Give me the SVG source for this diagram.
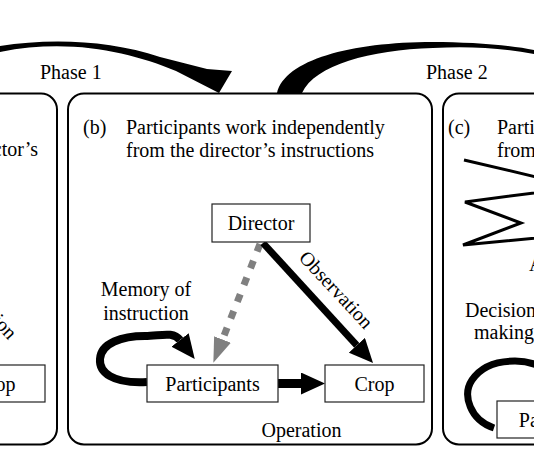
<svg xmlns="http://www.w3.org/2000/svg" width="534" height="462" viewBox="0 0 534 462">
<style>
text { font-family: "Liberation Serif", "Times New Roman", serif; font-size: 20px; fill: #000; }
.mid { text-anchor: middle; }
.panel { fill: #fff; stroke: #000; stroke-width: 2; }
.box { fill: #fff; stroke: #222; stroke-width: 1.2; }
.blk { fill: none; stroke: #000; }
.gray { fill: none; stroke: #808080; stroke-width: 7; stroke-dasharray: 8 10; }
.flow { fill: #000; }
</style>
<defs>
<marker id="headB" markerUnits="userSpaceOnUse" viewBox="0 0 24 22" markerWidth="24" markerHeight="22" refX="0" refY="11" orient="auto">
<path d="M0,0 L24,11 L0,22 Z" fill="#000"/>
</marker>
<marker id="headG" markerUnits="userSpaceOnUse" viewBox="0 0 25 18" markerWidth="25" markerHeight="18" refX="0" refY="9" orient="auto">
<path d="M0,0 L25,9 L0,18 Z" fill="#808080"/>
</marker>
</defs>

<g id="phase-arrows">
<path class="flow" d="M0,46 C50,38 110,40 160,57 L207,69 L232,71 L219,93 L176,71 C130,52 70,38 0,52 Z"/>
<path class="flow" d="M277,93 C285,60 350,42 433,42 C470,42 510,45 534,50 L534,54 C500,48 470,46 433,48 C370,50 315,65 302,93 Z"/>
<text x="40" y="79">Phase 1</text>
<text x="426" y="79">Phase 2</text>
</g>

<g id="panel-a">
<rect class="panel" x="-310" y="93.5" width="367" height="351" rx="16"/>
<text x="38" y="156" text-anchor="end">director’s</text>
<text x="-58" y="269" transform="rotate(47 -58 269)">Observation</text>
<g id="crop-a">
<rect class="box" x="-54" y="365" width="99" height="37"/>
<text class="mid" x="-4.5" y="390.5">Crop</text>
</g>
</g>

<g id="panel-b">
<rect class="panel" x="68" y="93.5" width="364" height="351" rx="16"/>
<text x="83" y="134">(b)</text>
<text x="126" y="134">Participants work independently</text>
<text x="126" y="157">from the director’s instructions</text>
<text class="mid" x="146" y="296">Memory of</text>
<text class="mid" x="146" y="320">instruction</text>
<text class="mid" x="301.5" y="437">Operation</text>
</g>

<g id="panel-c">
<rect class="panel" x="443" y="93.5" width="300" height="351" rx="16"/>
<text x="448" y="134">(c)</text>
<text x="497" y="134">Participants</text>
<text x="497" y="157">from</text>
<path d="M464,160 L579,187 L465,202 L521,223 L463,245 L590,233" fill="none" stroke="#000" stroke-width="3" stroke-linejoin="miter"/>
<text x="529" y="271">A</text>
<text x="465" y="317">Decision</text>
<text x="474" y="339">making</text>
</g>

<g id="connectors">
<path class="gray" d="M260,244 L222.5,339.5" marker-end="url(#headG)"/>
<path class="blk" stroke-width="7" d="M263,243 L356.8,345.3" marker-end="url(#headB)"/>
<path class="blk" stroke-width="9" d="M278,383.5 L301,383.5" marker-end="url(#headB)"/>
<path class="blk" stroke-width="8" d="M147,382 C112,384 99,372 100,359 C101,343 122,336 145,336 C160,336 173,331 180,340" marker-end="url(#headB)"/>
<path class="blk" stroke-width="7" d="M494,428 C470,420 462,395 472,380 C482,365 500,361 515,361 C528,361 540,365 550,372"/>
<text x="298" y="258.5" transform="rotate(47 298 258.5)">Observation</text>
</g>

<g id="director">
<rect class="box" x="212" y="204" width="98" height="38"/>
<text class="mid" x="261" y="230">Director</text>
</g>
<g id="participants">
<rect class="box" x="147" y="365" width="131" height="37"/>
<text class="mid" x="212.5" y="390.5">Participants</text>
</g>
<g id="crop">
<rect class="box" x="325" y="365" width="99" height="37"/>
<text class="mid" x="374.5" y="390.5">Crop</text>
</g>
<g id="participants-c">
<rect class="box" x="497" y="401" width="131" height="37"/>
<text class="mid" x="566" y="427">Participants</text>
</g>
</svg>
